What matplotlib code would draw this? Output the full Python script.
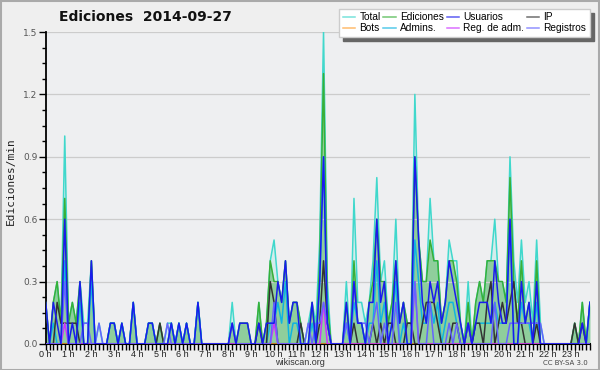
import numpy as np
import matplotlib
matplotlib.use("Agg")
import matplotlib.pyplot as plt
from matplotlib.patches import Rectangle
from matplotlib.ticker import MultipleLocator

# edits per 10-minute bin, 2014-09-27 (one row = one hour, 6 bins)
total = [
    2, 0, 2, 3, 1, 10,  1, 2, 1, 3, 1, 1,  4, 0, 1, 0, 0, 1,  1, 0, 1, 0, 0, 2,
    0, 0, 0, 1, 1, 0,   1, 0, 1, 1, 0, 1,  0, 1, 0, 0, 2, 0,  0, 0, 0, 0, 0, 0,
    0, 2, 0, 1, 1, 1,   0, 0, 2, 0, 1, 4,  5, 3, 2, 4, 1, 2,  2, 1, 0, 1, 2, 1,
    5, 15, 3, 0, 0, 0,  0, 3, 0, 7, 2, 2,  1, 2, 4, 8, 3, 4,  1, 2, 6, 1, 2, 1,
    1, 12, 5, 3, 3, 7,  4, 4, 1, 2, 5, 4,  4, 1, 0, 3, 0, 2,  3, 2, 4, 4, 6, 3,
    3, 2, 9, 4, 2, 5,   2, 3, 1, 5, 1, 0,  0, 0, 0, 0, 0, 0,  0, 1, 0, 2, 0, 2,
]
ediciones = [
    2, 0, 2, 3, 1, 7,   1, 2, 1, 3, 0, 0,  4, 0, 0, 0, 0, 1,  1, 0, 1, 0, 0, 2,
    0, 0, 0, 1, 1, 0,   1, 0, 0, 1, 0, 1,  0, 1, 0, 0, 2, 0,  0, 0, 0, 0, 0, 0,
    0, 1, 0, 1, 1, 1,   0, 0, 2, 0, 1, 4,  3, 3, 2, 4, 1, 2,  2, 1, 0, 0, 2, 0,
    4, 13, 2, 0, 0, 0,  0, 2, 0, 4, 1, 1,  0, 2, 3, 6, 3, 3,  1, 2, 4, 1, 2, 1,
    1, 9, 5, 3, 3, 5,   4, 4, 1, 2, 4, 4,  3, 1, 0, 2, 0, 2,  3, 2, 4, 4, 4, 3,
    3, 2, 8, 3, 1, 4,   1, 2, 0, 4, 0, 0,  0, 0, 0, 0, 0, 0,  0, 1, 0, 2, 0, 2,
]
usuarios = [
    2, 0, 2, 1, 0, 6,   0, 1, 0, 3, 0, 0,  4, 0, 0, 0, 0, 1,  1, 0, 1, 0, 0, 2,
    0, 0, 0, 1, 1, 0,   0, 0, 0, 1, 0, 1,  0, 1, 0, 0, 2, 0,  0, 0, 0, 0, 0, 0,
    0, 1, 0, 1, 1, 1,   0, 0, 1, 0, 1, 1,  1, 3, 2, 4, 1, 2,  2, 0, 0, 0, 2, 0,
    3, 9, 1, 0, 0, 0,   0, 2, 0, 3, 1, 1,  0, 2, 2, 6, 2, 3,  0, 1, 4, 1, 2, 0,
    0, 9, 5, 2, 1, 3,   2, 3, 1, 2, 4, 3,  2, 1, 0, 1, 0, 1,  2, 2, 2, 1, 4, 2,
    1, 1, 6, 0, 0, 3,   1, 2, 0, 3, 0, 0,  0, 0, 0, 0, 0, 0,  0, 0, 0, 1, 0, 2,
]
ip = [
    0, 0, 0, 2, 1, 1,   1, 1, 1, 0, 0, 0,  0, 0, 0, 0, 0, 0,  0, 0, 0, 0, 0, 0,
    0, 0, 0, 0, 0, 0,   1, 0, 0, 0, 0, 0,  0, 0, 0, 0, 0, 0,  0, 0, 0, 0, 0, 0,
    0, 0, 0, 0, 0, 0,   0, 0, 1, 0, 0, 3,  2, 0, 0, 0, 0, 0,  0, 1, 0, 0, 0, 0,
    1, 4, 1, 0, 0, 0,   0, 0, 0, 1, 0, 0,  0, 0, 1, 0, 1, 0,  1, 1, 0, 0, 0, 1,
    1, 0, 0, 1, 2, 2,   2, 1, 0, 0, 0, 1,  1, 0, 0, 1, 0, 1,  1, 0, 2, 3, 0, 1,
    2, 1, 2, 3, 1, 1,   0, 0, 0, 1, 0, 0,  0, 0, 0, 0, 0, 0,  0, 1, 0, 1, 0, 0,
]
bots = [0] * 144
admins = [
    0, 0, 1, 0, 0, 4,   0, 0, 0, 2, 0, 0,  3, 0, 0, 0, 0, 1,  1, 0, 1, 0, 0, 2,
    0, 0, 0, 1, 1, 0,   0, 0, 0, 1, 0, 1,  0, 1, 0, 0, 2, 0,  0, 0, 0, 0, 0, 0,
    0, 0, 0, 0, 0, 0,   0, 0, 0, 0, 0, 1,  1, 2, 1, 3, 0, 1,  1, 0, 0, 0, 1, 0,
    3, 9, 1, 0, 0, 0,   0, 1, 0, 2, 1, 1,  0, 1, 1, 4, 1, 2,  0, 1, 3, 0, 1, 0,
    0, 5, 3, 1, 1, 2,   1, 2, 0, 1, 2, 2,  1, 0, 0, 1, 0, 1,  1, 1, 1, 1, 2, 1,
    1, 1, 6, 0, 0, 2,   1, 1, 0, 2, 0, 0,  0, 0, 0, 0, 0, 0,  0, 0, 0, 0, 0, 2,
]
reg_adm = [
    0, 0, 0, 0, 0, 1,   0, 0, 0, 0, 0, 0,  0, 0, 0, 0, 0, 0,  0, 0, 0, 0, 0, 0,
    0, 0, 0, 0, 0, 0,   0, 0, 0, 0, 0, 0,  0, 0, 0, 0, 0, 0,  0, 0, 0, 0, 0, 0,
    0, 0, 0, 0, 0, 0,   0, 0, 0, 0, 0, 0,  1, 0, 0, 0, 0, 0,  0, 0, 0, 0, 0, 0,
    0, 2, 0, 0, 0, 0,   0, 0, 0, 0, 0, 0,  0, 0, 0, 0, 0, 0,  0, 0, 0, 0, 0, 0,
    0, 3, 0, 0, 0, 0,   0, 0, 0, 0, 0, 0,  0, 0, 0, 0, 0, 0,  0, 0, 0, 0, 0, 0,
    0, 0, 0, 0, 0, 0,   0, 0, 0, 0, 0, 0,  0, 0, 0, 0, 0, 0,  0, 0, 0, 0, 0, 0,
]
registros = [
    0, 0, 0, 0, 0, 3,   0, 0, 0, 0, 1, 1,  0, 0, 1, 0, 0, 0,  0, 0, 0, 0, 0, 0,
    0, 0, 0, 0, 0, 0,   0, 0, 1, 0, 0, 0,  0, 0, 0, 0, 0, 0,  0, 0, 0, 0, 0, 0,
    0, 1, 0, 0, 0, 0,   0, 0, 0, 0, 0, 0,  2, 0, 0, 0, 0, 0,  0, 0, 0, 1, 0, 1,
    1, 2, 1, 0, 0, 0,   0, 1, 0, 3, 1, 1,  1, 0, 1, 2, 0, 1,  0, 0, 2, 0, 0, 0,
    0, 3, 0, 0, 0, 2,   0, 0, 0, 0, 1, 0,  1, 0, 0, 1, 0, 0,  0, 0, 0, 0, 2, 0,
    0, 0, 1, 1, 1, 1,   1, 1, 1, 1, 1, 0,  0, 0, 0, 0, 0, 0,  0, 0, 0, 0, 0, 0,
]
hour_labels = [f"{h} h" for h in range(24)]

# bins are 10 minutes -> x in hours, values in edits/min
x = np.arange(len(total)) / 6.0
per_min = lambda s: np.array(s) / 10.0

fig = plt.figure(figsize=(6, 3.7), dpi=100, facecolor="#efefef")
ax = fig.add_axes([0.0762, 0.0703, 0.907, 0.8432], facecolor="#eeeff1")

ax.grid(True, axis="y", color="#cccccc", lw=0.9, zorder=0)
ax.fill_between(x, per_min(total), color="#40e0d0", alpha=0.15, lw=0, zorder=1)
ax.fill_between(x, per_min(ediciones), color="#3caa3c", alpha=0.45, lw=0, zorder=1)

series = [
    ("Total", total, "#40d8cc", 2),
    ("Ediciones", ediciones, "#38b038", 3),
    ("Bots", bots, "#ffa030", 3),
    ("Admins.", admins, "#10b4e0", 4),
    ("IP", ip, "#333333", 5),
    ("Reg. de adm.", reg_adm, "#cc33ff", 6),
    ("Registros", registros, "#6464ff", 6),
    ("Usuarios", usuarios, "#1a1aee", 7),
]
handles = {}
for name, vals, col, z in series:
    handles[name], = ax.plot(x, per_min(vals), color=col, lw=1.1, zorder=z)

ax.set_xlim(0, x[-1])
ax.set_ylim(0, 1.5)
ax.set_yticks([0, 0.3, 0.6, 0.9, 1.2, 1.5])
ax.set_yticklabels(["0.0", "0.3", "0.6", "0.9", "1.2", "1.5"])
ax.yaxis.set_minor_locator(MultipleLocator(0.075))
ax.set_xticks(range(24))
ax.set_xticklabels(hour_labels, family="Liberation Sans")
ax.xaxis.set_minor_locator(MultipleLocator(1 / 6))
ax.tick_params(axis="both", which="both", direction="out", color="black", width=1)
ax.tick_params(axis="x", which="major", length=4, labelsize=6.5, pad=0.5, labelcolor="#222222")
ax.tick_params(axis="x", which="minor", length=4)
ax.tick_params(axis="y", which="major", length=5, labelsize=6.5, pad=1, labelcolor="#555555")
ax.tick_params(axis="y", which="minor", length=3)
for s in ["top", "right"]:
    ax.spines[s].set_visible(False)
ax.spines["left"].set_linewidth(1.3)
ax.spines["bottom"].set_linewidth(1.5)

fig.text(0.0183, 0.51, "Ediciones/min", rotation=90, ha="center", va="center",
         fontsize=8, family="DejaVu Sans Mono", color="#222222")
fig.text(0.242, 0.955, "Ediciones  2014-09-27", ha="center", va="center",
         fontsize=10, fontweight="bold", color="#111111")
fig.text(0.5, 0.02, "wikiscan.org", ha="center", va="center", fontsize=6.5,
         family="Liberation Sans", color="#333333")
fig.text(0.98, 0.02, "CC BY-SA 3.0", ha="right", va="center", fontsize=5, color="#444444")

order = ["Total", "Bots", "Ediciones", "Admins.", "Usuarios", "Reg. de adm.", "IP", "Registros"]
leg = fig.legend([handles[n] for n in order], order, loc="upper right",
                 bbox_to_anchor=(0.983, 0.976), ncol=4,
                 prop={"family": "Liberation Sans", "size": 7.3},
                 frameon=True, fancybox=False, handlelength=1.2, handletextpad=0.45,
                 columnspacing=0.25, labelspacing=0.08, borderpad=0.35, borderaxespad=0,
                 shadow={"ox": 3, "oy": -3, "color": "#666666", "alpha": 1})
leg.get_frame().set_facecolor("white")
leg.get_frame().set_edgecolor("#cccccc")
leg.get_frame().set_alpha(1)
for ln in leg.get_lines():
    ln.set_alpha(0.7)

fig.patches.append(Rectangle((0.001, 0.001), 0.997, 0.996, transform=fig.transFigure,
                             fill=False, edgecolor="#aaaaaa", lw=1.5))

fig.savefig("out.png", dpi=100, facecolor=fig.get_facecolor())
